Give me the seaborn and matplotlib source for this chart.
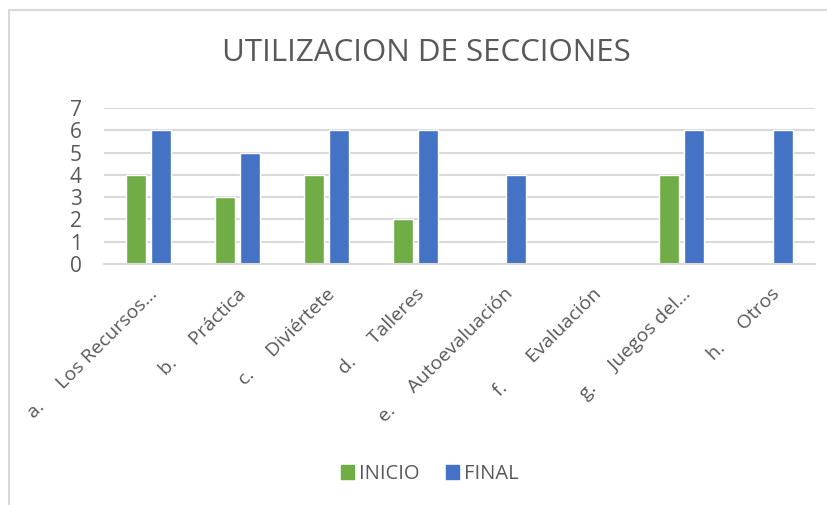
import numpy as np
import pandas as pd
import matplotlib.pyplot as plt
import matplotlib.lines as mlines
import seaborn as sns

## data
categories = ['a.     Los Recursos…', 'b.     Práctica', 'c.     Diviértete', 'd.     Talleres',
              'e.     Autoevaluación', 'f.       Evaluación', 'g.     Juegos del…', 'h.     Otros']
inicio = [4, 3, 4, 2, 0, 0, 4, 0]
final = [6, 5, 6, 6, 4, 0, 6, 6]
series_names = ['INICIO', 'FINAL']
y_ticks = [0, 1, 2, 3, 4, 5, 6, 7]

df = pd.DataFrame({
    'cat': categories * 2,
    'serie': [series_names[0]] * len(categories) + [series_names[1]] * len(categories),
    'valor': inicio + final,
})

## style
sns.set_theme(style='white')
plt.rcParams['font.family'] = ['Open Sans', 'DejaVu Sans']
text_color = '#595959'
grid_color = '#D9D9D9'
palette = {'INICIO': '#70AD47', 'FINAL': '#4472C4'}

fig = plt.figure(figsize=(8.27, 5.05), dpi=100)
ax = fig.add_axes([104 / 827, 1 - 264 / 505, (815 - 104) / 827, (264 - 108) / 505])

sns.barplot(data=df, x='cat', y='valor', hue='serie', palette=palette,
            width=0.5625, gap=0.2, ax=ax, legend=False, saturation=1)

ax.set_xlim(-0.5, len(categories) - 0.5)
ax.set_ylim(0, 7)
ax.set_yticks(y_ticks)
ax.set_yticklabels([str(t) for t in y_ticks], fontsize=15, color=text_color)
ax.yaxis.grid(True, color=grid_color, linewidth=1.5)
ax.set_axisbelow(True)
for s in ['top', 'right', 'left']:
    ax.spines[s].set_visible(False)
ax.spines['bottom'].set_color(grid_color)
ax.spines['bottom'].set_linewidth(1.5)
ax.tick_params(axis='both', length=0)
ax.tick_params(axis='y', pad=16)
ax.set_xlabel('')
ax.set_ylabel('')
ax.set_xticks(range(len(categories)))
ax.set_xticklabels(categories, rotation=45, ha='right', rotation_mode='anchor',
                   fontsize=14, color=text_color)
ax.tick_params(axis='x', pad=15)

fig.text(0.515, 1 - 53 / 505, 'UTILIZACION DE SECCIONES', ha='center', va='center',
         fontsize=22.5, color=text_color)

handles = [plt.Rectangle((0, 0), 1, 1, color=palette[n]) for n in series_names]
fig.legend(handles, series_names, loc='center', bbox_to_anchor=(0.52, 1 - 474 / 505),
           ncol=2, frameon=False, fontsize=14.5, handlelength=0.65, handleheight=0.65,
           handletextpad=0.25, columnspacing=1.3, labelcolor=text_color)

# chart area border (top and left visible)
fig.add_artist(mlines.Line2D([9 / 827, 9 / 827], [0, 1 - 10 / 505], color=grid_color,
                             linewidth=1.5, transform=fig.transFigure))
fig.add_artist(mlines.Line2D([9 / 827, 1], [1 - 10 / 505, 1 - 10 / 505], color=grid_color,
                             linewidth=1.5, transform=fig.transFigure))

plt.savefig('out.png', dpi=100)
